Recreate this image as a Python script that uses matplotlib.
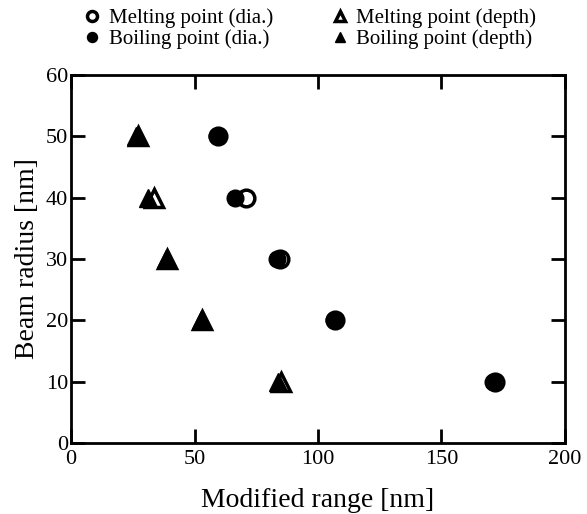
import matplotlib
matplotlib.use('Agg')
from matplotlib import pyplot as plt

plt.rcParams['font.family'] = ['Liberation Serif', 'DejaVu Serif']

# beam radius [nm]
radius = [50, 40, 30, 20, 10]
# modified range [nm]
melt_dia = [59.5, 71, 84.5, 107, 171.5]
boil_dia = [59, 66.5, 83.5, 106.5, 171]
melt_depth = [27, 33.5, 39, 53, 85]
boil_depth = [26.5, 31, 38.5, 52.5, 84]

fig = plt.figure(figsize=(5.87, 5.14), dpi=100)
ax = fig.add_axes([0.121, 0.138, 0.8415, 0.716])

h1, = ax.plot(melt_dia, radius, 'o', mfc='white', mec='black', mew=2.5, ms=12, ls='none')
h2, = ax.plot(boil_dia, radius, 'o', color='black', ms=12, ls='none')
h3, = ax.plot(melt_depth, radius, '^', mfc='white', mec='black', mew=2.5, ms=13, ls='none')
h4, = ax.plot(boil_depth, radius, '^', color='black', ms=13, ls='none')

ax.set_xlim(0, 200)
ax.set_ylim(0, 60)
ax.set_xticks([0, 50, 100, 150, 200])
ax.set_yticks([0, 10, 20, 30, 40, 50, 60])
ax.tick_params(direction='in', length=10, width=2, top=True, right=True,
               labelsize=16)
ax.tick_params(axis='x', pad=5)
ax.tick_params(axis='y', pad=2)
for s in ax.spines.values():
    s.set_linewidth(2)

ax.set_xlabel('Modified range [nm]', fontsize=20, labelpad=14)
ax.set_ylabel('Beam radius [nm]', fontsize=20, labelpad=4)

leg = fig.legend([h1, h2, h3, h4],
                 ['Melting point (dia.)', 'Boiling point (dia.)',
                  'Melting point (depth)', 'Boiling point (depth)'],
                 ncol=2, loc='upper left', bbox_to_anchor=(0.107, 1.02),
                 frameon=False, fontsize=15, handletextpad=0.3, columnspacing=2.7,
                 labelspacing=0.05, markerscale=0.6, handlelength=1.0)

plt.savefig('out.png', dpi=100)
